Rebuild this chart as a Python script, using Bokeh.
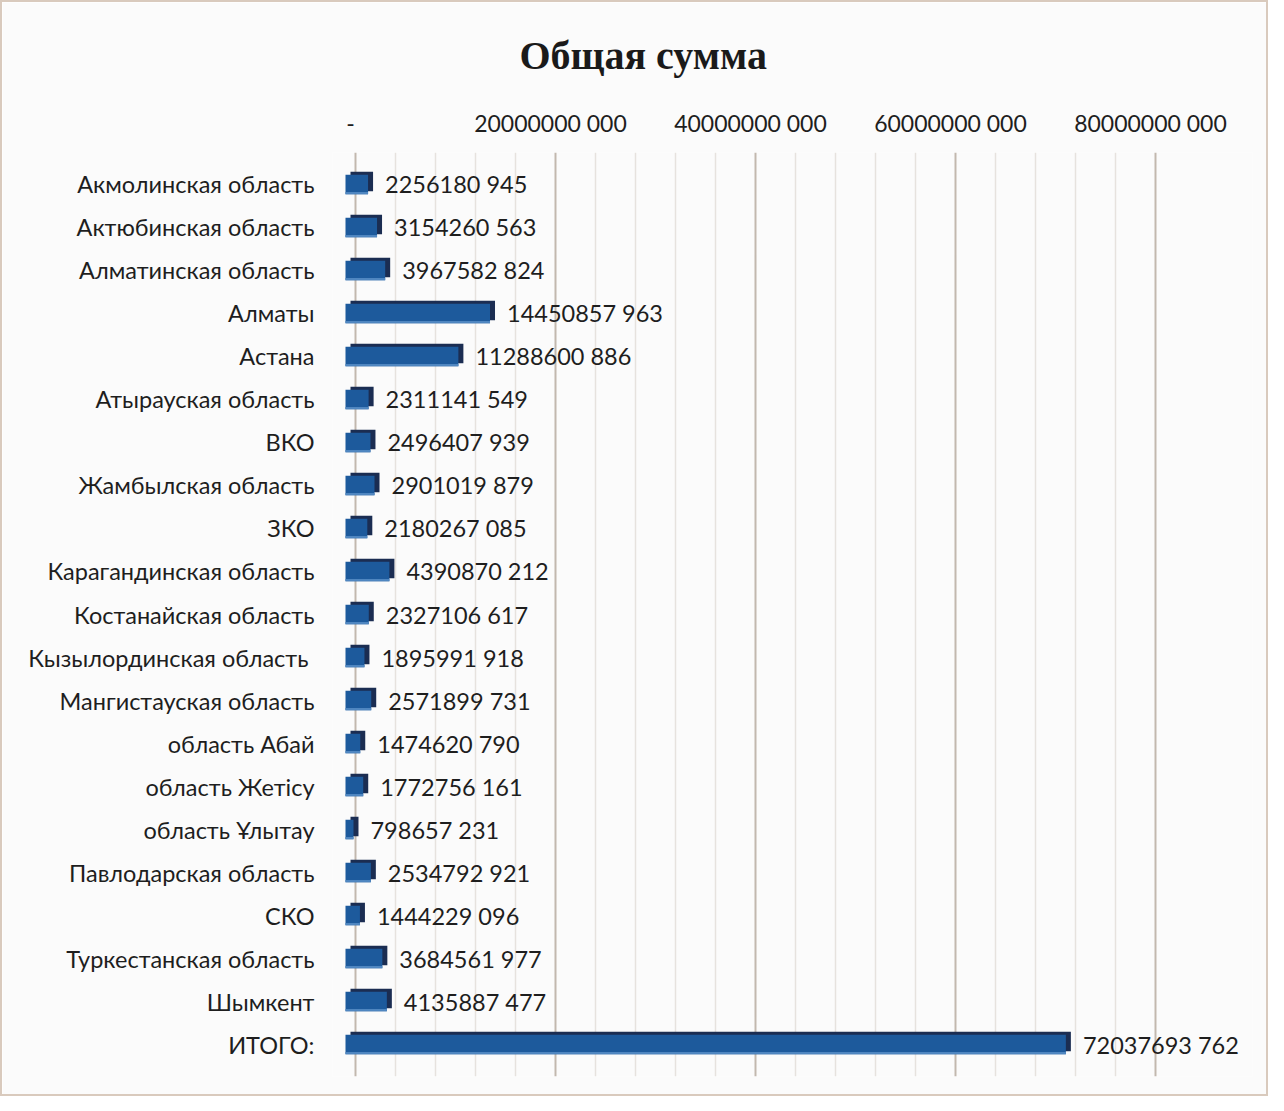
from bokeh.plotting import figure
from bokeh.models import Range1d, FactorRange, LinearAxis, FixedTicker, Grid, ColumnDataSource
from bokeh.transform import dodge
from bokeh.core.properties import value
from bokeh.embed import file_html
from bokeh.resources import INLINE

title_text = "Общая сумма"
categories = ["Акмолинская область", "Актюбинская область", "Алматинская область",
              "Алматы", "Астана", "Атырауская область", "ВКО", "Жамбылская область",
              "ЗКО", "Карагандинская область", "Костанайская область",
              "Кызылординская  область", "Мангистауская область", "область Абай",
              "область Жетісу", "область Ұлытау", "Павлодарская область", "СКО",
              "Туркестанская область", "Шымкент", "ИТОГО:"]
values = [2256180945, 3154260563, 3967582824, 14450857963, 11288600886, 2311141549,
          2496407939, 2901019879, 2180267085, 4390870212, 2327106617, 1895991918,
          2571899731, 1474620790, 1772756161, 798657231, 2534792921, 1444229096,
          3684561977, 4135887477, 72037693762]
tick_values = [0, 20000000000, 40000000000, 60000000000, 80000000000]
tick_labels = ["-", "20000000 000", "40000000 000", "60000000 000", "80000000 000"]
minor_values = [v for v in range(0, 80000000001, 4000000000) if v not in tick_values]

value_labels = [f"{v // 1000} {v % 1000:03d}" for v in values]

source = ColumnDataSource(dict(cat=categories, val=values, lab=value_labels))

FONT = "Lato"
TEXT = "#1e1e1e"

p = figure(width=1268, height=1096, output_backend="svg", toolbar_location=None,
           y_range=FactorRange(factors=list(reversed(categories)),
                               range_padding=0.244, range_padding_units="absolute"),
           x_range=Range1d(-1.3e9, 90.7e9), x_axis_location=None,
           min_border_left=330, min_border_top=150, min_border_bottom=22,
           min_border_right=18)
p.styles = {"border": "2px solid #d9cabd"}
p.extra_x_ranges = {"grid": Range1d(-2.3e9, 89.7e9), "axis": Range1d(-1.8e9, 90.2e9)}
p.background_fill_color = "#fbfbfb"
p.border_fill_color = "#fbfbfb"
p.outline_line_color = None
p.grid.visible = False

p.title.text = title_text
p.title.align = "left"
p.title.offset = 187
p.title.text_font = "Liberation Serif"
p.title.text_font_size = "40px"
p.title.text_font_style = "bold"
p.title.text_color = "#1a1a1a"
p.title.standoff = 55

grid = Grid(dimension=0, ticker=FixedTicker(ticks=tick_values, minor_ticks=minor_values),
            x_range_name="grid", grid_line_color="#c2b8ae", grid_line_width=2,
            minor_grid_line_color="#e6e2de", minor_grid_line_width=1.5)
p.add_layout(grid)

xaxis = LinearAxis(x_range_name="axis", ticker=FixedTicker(ticks=tick_values),
                   major_label_overrides=dict(zip(tick_values, tick_labels)))
xaxis.axis_line_color = None
xaxis.major_tick_line_color = None
xaxis.minor_tick_line_color = None
xaxis.major_tick_out = 0
xaxis.major_label_standoff = 16
xaxis.major_label_text_font = FONT
xaxis.major_label_text_font_size = "23px"
xaxis.major_label_text_color = TEXT
p.add_layout(xaxis, "above")

ya = p.yaxis[0]
ya.axis_line_color = None
ya.major_tick_line_color = None
ya.minor_tick_line_color = None
ya.major_tick_out = 0
ya.major_label_standoff = 18
ya.major_label_text_font = FONT
ya.major_label_text_font_size = "23.5px"
ya.major_label_text_color = TEXT

# back/top face (3D depth)
p.hbar(y=dodge("cat", 0.07, range=p.y_range), left=0, right="val", height=0.45,
       x_range_name="axis", source=source, fill_color="#1b2d52", line_color=None)
# front face
p.hbar(y="cat", left=0, right="val", height=0.45, source=source,
       fill_color="#1d5a9c", line_color=None)
p.hbar(y=dodge("cat", -0.2, range=p.y_range), left=0, right="val", height=0.05,
       source=source, fill_color="#4f86c0", line_color=None)

p.text(x="val", y="cat", text="lab", x_offset=17, source=source,
       text_baseline="middle", text_font=value(FONT), text_font_size="23.5px",
       text_color=TEXT)

open("out.html", "w").write(file_html(p, INLINE))
